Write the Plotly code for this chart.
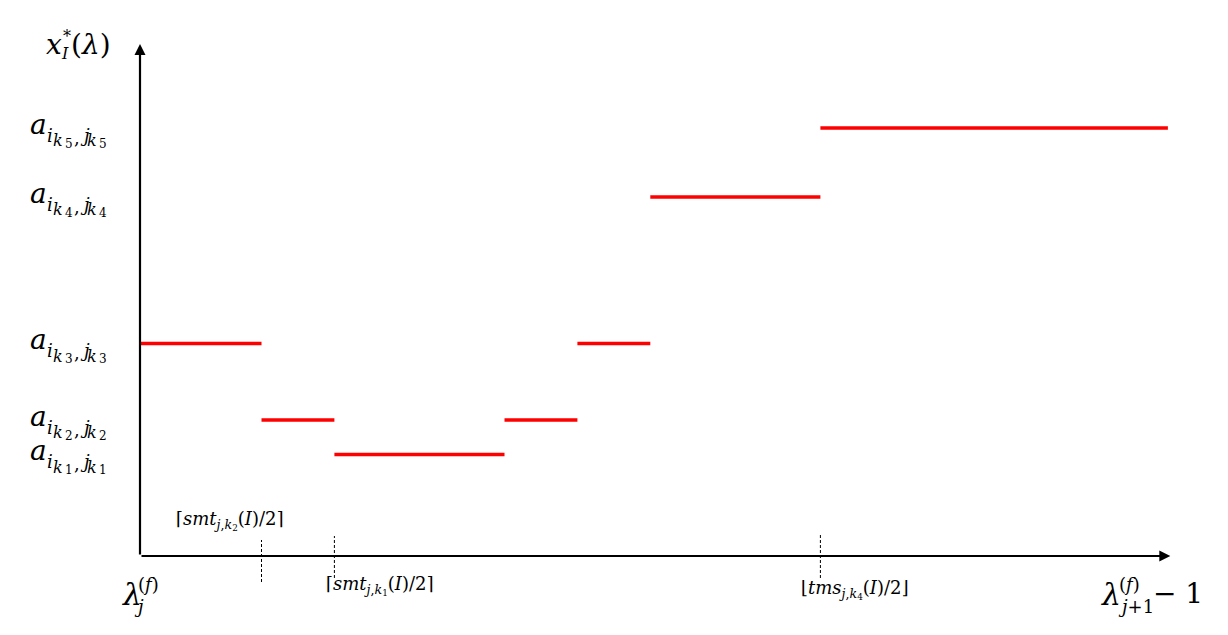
import plotly.graph_objects as go

# breakpoints along lambda (abstract units) and the level held on each piece
breaks = [0, 5, 8, 15, 18, 21, 28, 42.3]
piece_levels = ["k3", "k2", "k1", "k2", "k3", "k4", "k5"]
a_values = {"k1": 101.5, "k2": 136, "k3": 212.5, "k4": 359, "k5": 428}

# dashed marks on the lambda axis: position, top, bottom
mark_x = [5, 8, 28]
mark_top = [16, 20, 21]
mark_bottom = [-26, -22, -22]

x_end = 42.4
y_end = 512

PX = 24.3   # pixels per lambda unit
PAGE = 8    # page margin around the plot div
FONT = "DejaVu Serif"


def px_x(p):
    return (p - 140) / PX


def px_y(p):
    return 556 - p


fig = go.Figure()

for i, k in enumerate(piece_levels):
    fig.add_trace(go.Scatter(
        x=[breaks[i], breaks[i + 1]], y=[a_values[k], a_values[k]],
        mode="lines", line=dict(color="#FF0000", width=3.5),
        showlegend=False, hoverinfo="skip"))

for mx, t, b in zip(mark_x, mark_top, mark_bottom):
    fig.add_trace(go.Scatter(
        x=[mx, mx], y=[b, t], mode="lines",
        line=dict(color="black", width=1, dash="3px,2px"),
        showlegend=False, hoverinfo="skip"))

ann = []
# axes with arrowheads
ann.append(dict(x=x_end, y=0, ax=0, ay=0, xref="x", yref="y", axref="x", ayref="y",
                text="", showarrow=True, arrowhead=2, arrowsize=1, arrowwidth=2.2, arrowcolor="black"))
ann.append(dict(x=0, y=y_end, ax=0, ay=0, xref="x", yref="y", axref="x", ayref="y",
                text="", showarrow=True, arrowhead=2, arrowsize=1, arrowwidth=2.2, arrowcolor="black"))


def label(text, px, py, size, xanchor="left"):
    # py is the middle of the lower-case letters; shift to the middle of the em box
    ann.append(dict(x=px_x(px), y=px_y(py - 0.09 * size), xref="x", yref="y", text=text,
                    showarrow=False, xanchor=xanchor, yanchor="middle", borderpad=0,
                    font=dict(family=FONT, size=size, color="black")))


# level labels on the vertical axis, a_{i_{k n}, j_{k n}}
for k in ["k1", "k2", "k3", "k4", "k5"]:
    n = k[1]
    y0 = 556 - a_values[k] - 1
    label("<i>a</i>", 29, y0, 28)
    label("<i>i</i>", 46, y0 + 10, 18)
    label("<i>k</i>", 52, y0 + 15, 16)
    label(n, 64, y0 + 18, 12)
    label(",", 73, y0 + 12, 18)
    label("<i>j</i>", 79, y0 + 10, 18)
    label("<i>k</i>", 86, y0 + 15, 16)
    label(n, 98, y0 + 18, 12)

# y axis title x*_I(lambda)
label("<i>x</i>", 45, 47, 28)
label("*", 62, 38, 16)
label("<i>I</i>", 60, 55, 16)
label("(<i>λ</i>)", 70, 47, 28)

# lambda_j^(f) at the origin
label("<i>λ</i>", 121, 597, 30)
label("(<i>f</i>)", 137, 586, 18)
label("<i>j</i>", 133, 608, 18)

# lambda_{j+1}^(f) - 1 at the end
label("<i>λ</i>", 1100, 597, 30)
label("(<i>f</i>)", 1118, 586, 18)
label("<i>j</i>+1", 1117, 608, 18)
label("− 1", 1152, 596, 28)

# breakpoint labels
label("⌈<i>smt</i><sub><i>j</i>,<i>k</i><sub>2</sub></sub>(<i>I</i>)/2⌉", 175, 522, 18)
label("⌈<i>smt</i><sub><i>j</i>,<i>k</i><sub>1</sub></sub>(<i>I</i>)/2⌉", 325, 587, 18)
label("⌊<i>tms</i><sub><i>j</i>,<i>k</i><sub>4</sub></sub>(<i>I</i>)/2⌋", 800, 591, 18)

fig.update_layout(
    width=1228 - PAGE, height=635 - PAGE, autosize=False,
    margin=dict(l=0, r=0, t=0, b=0),
    plot_bgcolor="white", paper_bgcolor="white",
    annotations=ann,
    xaxis=dict(range=[px_x(PAGE), px_x(1228)], visible=False, fixedrange=True),
    yaxis=dict(range=[px_y(635), px_y(PAGE)], visible=False, fixedrange=True),
)

fig.write_html("out.html")
